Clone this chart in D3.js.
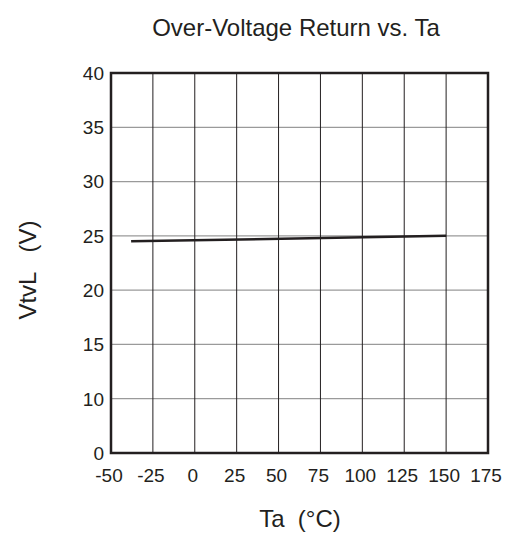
<!DOCTYPE html>
<html lang="en">
<head>
<meta charset="UTF-8">
<title>Over-Voltage Return vs. Ta</title>
<script src="https://d3js.org/d3.v7.min.js"></script>
<style>
  body { margin: 0; background: #fff; }
  text { font-family: "Liberation Sans", Arial, sans-serif; fill: #231f20; white-space: pre; }
</style>
</head>
<body>
<script>
// tick labels (y axis skips 5, spacing is even)
var xTicks = [-50, -25, 0, 25, 50, 75, 100, 125, 150, 175];
var yTicks = [0, 10, 15, 20, 25, 30, 35, 40];
// series: Ta (°C) vs VtvL (V)
var ta = [-38, 150];
var vtvl = [24.5, 25.0];

var width = 510, height = 541;
var pLeft = 111, pRight = 488, pTop = 73, pBottom = 453;

var svg = d3.select("body").append("svg")
  .attr("width", width).attr("height", height);

var x = d3.scaleLinear().domain([-50, 175]).range([pLeft, pRight]);
// even spacing between labelled ticks
var y = d3.scaleLinear().domain(yTicks)
  .range(yTicks.map(function(d, i) { return pBottom - i * (pBottom - pTop) / (yTicks.length - 1); }));

// horizontal grid (gray)
svg.append("g").selectAll("line").data(yTicks.slice(1, -1)).enter().append("line")
  .attr("x1", pLeft).attr("x2", pRight)
  .attr("y1", function(d) { return y(d); }).attr("y2", function(d) { return y(d); })
  .attr("stroke", "#9a9a9a").attr("stroke-width", 1.2);

// vertical grid (black)
svg.append("g").selectAll("line").data(xTicks.slice(1, -1)).enter().append("line")
  .attr("x1", function(d) { return x(d); }).attr("x2", function(d) { return x(d); })
  .attr("y1", pTop).attr("y2", pBottom)
  .attr("stroke", "#231f20").attr("stroke-width", 1);

// frame
svg.append("rect").attr("x", pLeft).attr("y", pTop)
  .attr("width", pRight - pLeft).attr("height", pBottom - pTop)
  .attr("fill", "none").attr("stroke", "#231f20").attr("stroke-width", 2.5);

// data line
var line = d3.line().x(function(d) { return x(d[0]); }).y(function(d) { return y(d[1]); });
svg.append("path").datum(d3.zip(ta, vtvl))
  .attr("d", line).attr("fill", "none")
  .attr("stroke", "#231f20").attr("stroke-width", 2.5);

// tick labels
svg.append("g").selectAll("text").data(yTicks).enter().append("text")
  .attr("x", pLeft - 7).attr("y", function(d) { return y(d); })
  .attr("dy", "0.36em").attr("text-anchor", "end")
  .attr("font-size", 19).text(function(d) { return d; });

svg.append("g").selectAll("text").data(xTicks).enter().append("text")
  .attr("x", function(d) { return x(d) - 2; }).attr("y", 482)
  .attr("text-anchor", "middle")
  .attr("font-size", 19).text(function(d) { return d; });

// titles
svg.append("text").attr("x", 296).attr("y", 36).attr("text-anchor", "middle")
  .attr("font-size", 24).text("Over-Voltage Return vs. Ta");
svg.append("text").attr("x", 300).attr("y", 527).attr("text-anchor", "middle")
  .attr("font-size", 24).text("Ta  (\u00B0C)");
svg.append("text").attr("transform", "translate(36,270) rotate(-90)")
  .attr("text-anchor", "middle")
  .attr("font-size", 24).text("VtvL   (V)");
</script>
</body>
</html>
